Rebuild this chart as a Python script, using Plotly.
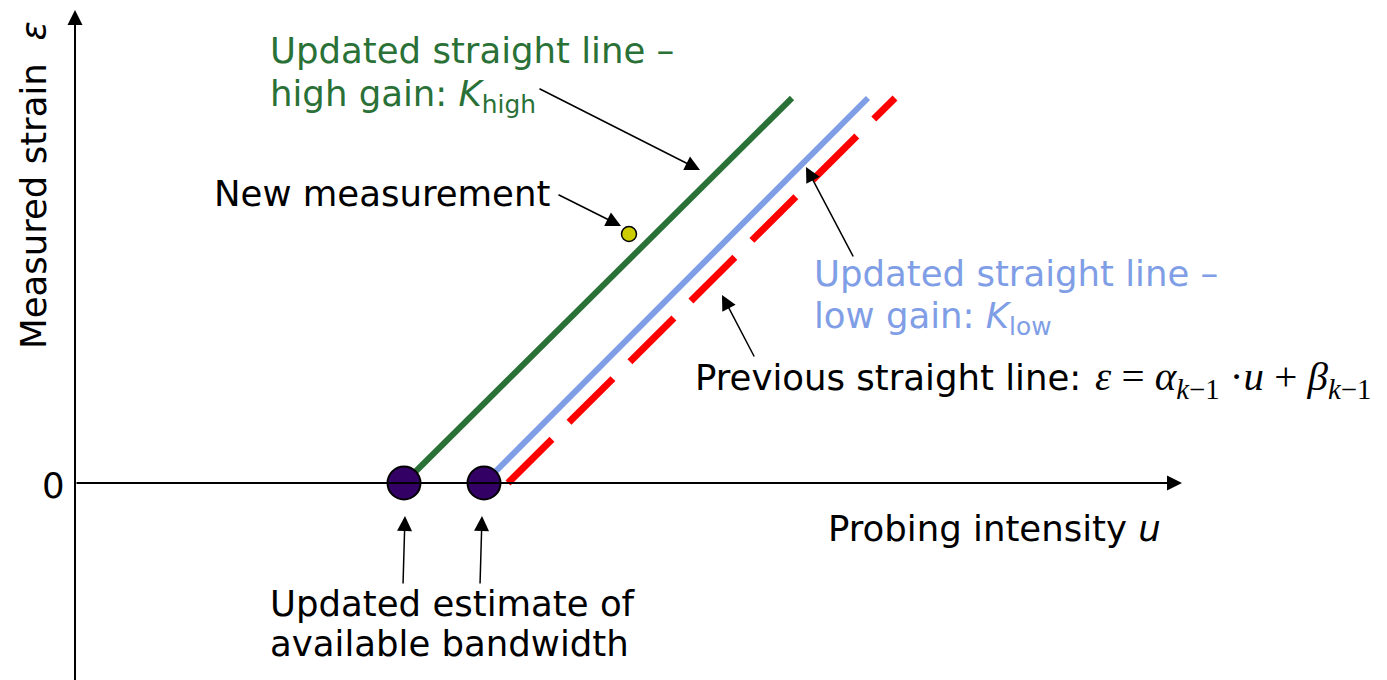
import plotly.graph_objects as go

# ---- data (u = probing intensity, eps = measured strain; axes cross at 0,0) ----
high_gain_u = [329, 717]
high_gain_eps = [0, 385]
low_gain_u = [409, 793]
low_gain_eps = [0, 385]
previous_u = [433, 820]
previous_eps = [0, 385]
bandwidth_u = [329, 409]
bandwidth_eps = [0, 0]
measurement_u = [554]
measurement_eps = [249]

# axis arrows (tail, tip) and pointer arrows (tail, tip)
axis_arrows = [((0, -205), (0, 473)), ((0, 0), (1107, 0))]
pointer_arrows = [
    ((463, 395), (625, 313)),   # -> high-gain line
    ((482, 289), (546, 257)),   # -> new measurement
    ((779, 225), (731, 316)),   # -> low-gain line
    ((680, 125), (647, 188)),   # -> previous line
    ((328, -102), (330, -33)),  # -> estimate (high gain)
    ((405, -102), (407, -33)),  # -> estimate (low gain)
]

GREEN = "#2a7137"
BLUE = "#7f9ee6"
RED = "#ff0000"
PURPLE = "#330066"
YELLOW = "#cccc00"
FONT = "DejaVu Sans"
FS = 35.5

fig = go.Figure()
fig.add_trace(go.Scatter(x=high_gain_u, y=high_gain_eps, mode="lines",
                         line=dict(color=GREEN, width=6), hoverinfo="skip"))
fig.add_trace(go.Scatter(x=low_gain_u, y=low_gain_eps, mode="lines",
                         line=dict(color=BLUE, width=6), hoverinfo="skip"))
fig.add_trace(go.Scatter(x=previous_u, y=previous_eps, mode="lines",
                         line=dict(color=RED, width=7, dash="62px,24px"), hoverinfo="skip"))
fig.add_trace(go.Scatter(x=bandwidth_u, y=bandwidth_eps, mode="markers",
                         marker=dict(color=PURPLE, size=33, line=dict(color="black", width=2)),
                         hoverinfo="skip"))
fig.add_trace(go.Scatter(x=measurement_u, y=measurement_eps, mode="markers",
                         marker=dict(color=YELLOW, size=15, line=dict(color="black", width=1.5)),
                         hoverinfo="skip"))

annotations = []


def arrow(tail, tip, width, size):
    annotations.append(dict(x=tip[0], y=tip[1], ax=tail[0], ay=tail[1],
                            xref="x", yref="y", axref="x", ayref="y",
                            text="", showarrow=True, arrowhead=2,
                            arrowwidth=width, arrowsize=size, arrowcolor="black"))


for tail, tip in axis_arrows:
    arrow(tail, tip, 2, 1.5)
for tail, tip in pointer_arrows:
    arrow(tail, tip, 1.5, 2.0)


def label(x, y, text, color="black", size=FS, xanchor="left", angle=0, family=FONT):
    annotations.append(dict(x=x, y=y, xref="x", yref="y", text=text, showarrow=False,
                            xanchor=xanchor, yanchor="middle", textangle=angle,
                            font=dict(family=family, size=size, color=color)))


label(193, 433, "Updated straight line –", GREEN)
label(193, 387, "high gain: <i>K</i><sub>high</sub>", GREEN)
label(137, 290, "New measurement")
label(737, 210, "Updated straight line –", BLUE)
label(737, 165, "low gain: <i>K</i><sub>low</sub>", BLUE)
label(618, 106, "Previous straight line:")
label(1018, 104,
      "<i>ε</i> = <i>α</i><sub><i>k</i>−1</sub> ·<i>u</i> + <i>β</i><sub><i>k</i>−1</sub>",
      size=41, family="Liberation Serif")
label(751, -45, "Probing intensity <i>u</i>")
label(193, -120, "Updated estimate of")
label(193, -160, "available bandwidth")
label(-22, -2, "0", xanchor="center")
label(-42, 298, "Measured strain  <i>ε</i>", xanchor="center", angle=-90)

fig.update_layout(
    width=1387, height=680,
    margin=dict(l=0, r=0, t=0, b=0),
    paper_bgcolor="white", plot_bgcolor="white",
    showlegend=False,
    xaxis=dict(range=[-67, 1320], visible=False, fixedrange=True),
    yaxis=dict(range=[-205, 475], visible=False, fixedrange=True),
    annotations=annotations,
)

fig.write_html("out.html")
